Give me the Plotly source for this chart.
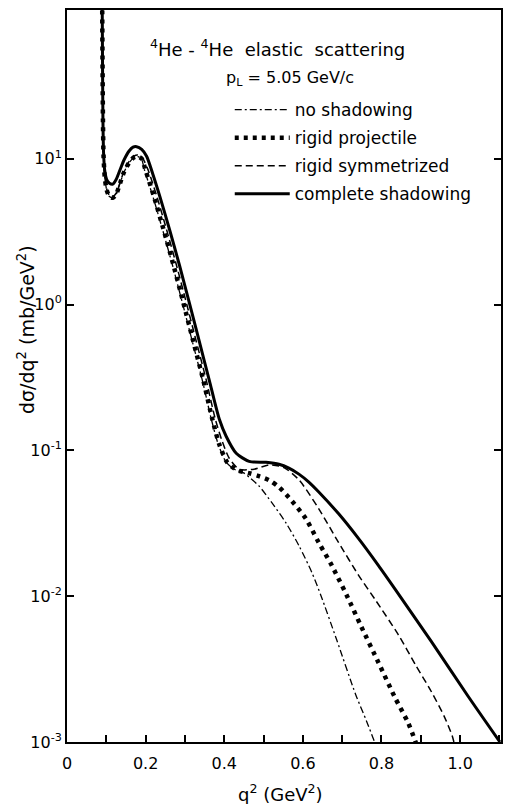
import plotly.graph_objects as go

# ---- data (q^2 in GeV^2, dsigma/dq^2 in mb/GeV^2) ----
q_complete = [0.0895, 0.0905, 0.0915, 0.093, 0.096, 0.101, 0.108, 0.1165, 0.125, 0.135,
              0.145, 0.158, 0.168, 0.177, 0.190, 0.2025, 0.218, 0.2354, 0.2608, 0.2861,
              0.3114, 0.3367, 0.362, 0.3873, 0.4051, 0.4304, 0.4633, 0.5063, 0.5392, 0.5646,
              0.5899, 0.6152, 0.6405, 0.6911, 0.7418, 0.7924, 0.8354, 0.9266, 1.0203, 1.1013]
y_complete = [120, 40, 18, 11, 8.3, 7.2, 6.8, 6.7, 7.2, 8.4,
              9.8, 11.3, 12.0, 12.1, 11.6, 10.4, 7.9, 5.6, 3.27, 1.86,
              1.023, 0.556, 0.302, 0.164, 0.1245, 0.0955, 0.0841, 0.0828, 0.0803, 0.0755,
              0.0687, 0.0606, 0.0518, 0.0367, 0.0248, 0.0162, 0.01109, 0.0049, 0.00206, 0.00100]

q_symm = [0.0895, 0.0905, 0.0915, 0.093, 0.096, 0.101, 0.108, 0.1165, 0.125, 0.135,
          0.145, 0.158, 0.170, 0.180, 0.192, 0.205, 0.2278, 0.2532, 0.2785, 0.3038,
          0.3291, 0.3544, 0.3772, 0.395, 0.4127, 0.438, 0.476, 0.514, 0.552, 0.590,
          0.6405, 0.691, 0.7418, 0.7848, 0.843, 0.886, 0.9266, 0.9595, 0.980, 0.987]
y_symm = [120, 40, 18, 10.5, 7.6, 6.2, 5.6, 5.5, 5.8, 6.9,
          8.2, 9.6, 10.4, 10.6, 10.1, 8.55, 5.6, 3.27, 1.86, 1.023,
          0.556, 0.302, 0.164, 0.115, 0.0883, 0.0743, 0.0743, 0.0795, 0.0762, 0.0628,
          0.0397, 0.0233, 0.0139, 0.0094, 0.00543, 0.0034, 0.00222, 0.00150, 0.0011, 0.00093]

q_proj = [0.0895, 0.0905, 0.0915, 0.093, 0.096, 0.101, 0.108, 0.1165, 0.125, 0.135,
          0.145, 0.158, 0.170, 0.179, 0.190, 0.200, 0.2203, 0.2456, 0.2709, 0.2962,
          0.3215, 0.3468, 0.3696, 0.3873, 0.4076, 0.4329, 0.4633, 0.4886, 0.514, 0.5392,
          0.572, 0.6076, 0.6405, 0.6734, 0.7114, 0.749, 0.7924, 0.835, 0.868, 0.891]
y_proj = [120, 40, 18, 10.4, 7.5, 6.1, 5.5, 5.4, 5.7, 6.8,
          8.1, 9.4, 10.2, 10.4, 10.0, 8.3, 5.6, 3.27, 1.86, 1.023,
          0.556, 0.302, 0.164, 0.11, 0.0828, 0.0731, 0.0698, 0.0665, 0.0625, 0.056,
          0.045, 0.034, 0.0233, 0.01626, 0.01016, 0.00615, 0.0035, 0.0020, 0.00135, 0.00093]

q_none = [0.0895, 0.0905, 0.0915, 0.093, 0.096, 0.101, 0.108, 0.1165, 0.125, 0.135,
          0.145, 0.158, 0.170, 0.178, 0.189, 0.1975, 0.2177, 0.243, 0.2684, 0.2937,
          0.319, 0.3443, 0.367, 0.3848, 0.405, 0.4253, 0.4506, 0.4633, 0.4886, 0.5215,
          0.557, 0.590, 0.6228, 0.6456, 0.686, 0.7342, 0.762, 0.787]
y_none = [120, 40, 18, 10.4, 7.5, 6.1, 5.5, 5.4, 5.7, 6.8,
          8.1, 9.4, 10.2, 10.4, 10.0, 8.3, 5.6, 3.27, 1.86, 1.023,
          0.556, 0.302, 0.164, 0.11, 0.0828, 0.0743, 0.0698, 0.0655, 0.0569, 0.0436,
          0.0318, 0.0222, 0.01456, 0.01016, 0.00502, 0.00212, 0.00139, 0.00093]

x_tickvals = [0, 0.1, 0.2, 0.3, 0.4, 0.5, 0.6, 0.7, 0.8, 0.9, 1.0, 1.1]
x_ticktext = ["0", "", "0.2", "", "0.4", "", "0.6", "", "0.8", "", "1.0", ""]
y_tickvals = [1e-3, 1e-2, 1e-1, 1e0, 1e1]
y_ticktext = ["10<sup>-3</sup>", "10<sup>-2</sup>", "10<sup>-1</sup>", "10<sup>0</sup>", "10<sup>1</sup>"]

labels = ["no shadowing", "rigid projectile", "rigid symmetrized", "complete shadowing"]

FONT = "DejaVu Sans"
fig = go.Figure()
fig.add_trace(go.Scatter(x=q_none, y=y_none, mode="lines", name=labels[0], legendgroup="a",
                         line=dict(color="black", width=1.3, dash="7px,3px,2px,3px", shape="spline", smoothing=0.7)))
fig.add_trace(go.Scatter(x=q_proj, y=y_proj, mode="lines", name=labels[1], legendgroup="b",
                         line=dict(color="black", width=4.5, dash="4px,5px", shape="spline", smoothing=0.7)))
fig.add_trace(go.Scatter(x=q_symm, y=y_symm, mode="lines", name=labels[2], legendgroup="c",
                         line=dict(color="black", width=1.5, dash="7px,4px", shape="spline", smoothing=0.7)))
fig.add_trace(go.Scatter(x=q_complete, y=y_complete, mode="lines", name=labels[3], legendgroup="d",
                         line=dict(color="black", width=3, shape="spline", smoothing=0.7)))

fig.update_layout(
    width=505, height=804,
    margin=dict(l=67, r=2, t=10, b=62),
    paper_bgcolor="white", plot_bgcolor="white",
    font=dict(family=FONT, color="black", size=15),
    showlegend=True,
    legend=dict(x=0.375, y=0.888, xanchor="left", yanchor="top", bgcolor="rgba(0,0,0,0)",
                font=dict(family=FONT, size=17), itemwidth=55, tracegroupgap=3,
                traceorder="grouped"),
    xaxis=dict(range=[0, 1.104], tickvals=x_tickvals, ticktext=x_ticktext,
               ticks="inside", ticklen=7, tickwidth=2, tickcolor="black",
               showline=True, linecolor="black", linewidth=2, mirror=True,
               showgrid=False, zeroline=False, ticklabelstandoff=6,
               tickfont=dict(family=FONT, size=16)),
    yaxis=dict(type="log", range=[-3.0, 2.02], tickvals=y_tickvals, ticktext=y_ticktext,
               ticks="inside", ticklen=7, tickwidth=2, tickcolor="black",
               showline=True, linecolor="black", linewidth=2, mirror="ticks",
               showgrid=False, zeroline=False,
               tickfont=dict(family=FONT, size=16)),
    annotations=[
        dict(text="<sup>4</sup>He - <sup>4</sup>He  elastic  scattering", x=0.484, y=0.948,
             xanchor="center", yanchor="middle",
             xref="paper", yref="paper", showarrow=False, font=dict(size=18)),
        dict(text="p<sub>L</sub> = 5.05 GeV/c", x=0.362, y=0.907, xanchor="left", yanchor="middle",
             xref="paper", yref="paper", showarrow=False, font=dict(size=16)),
        dict(text="dσ/dq<sup>2</sup> (mb/GeV<sup>2</sup>)", x=-0.094, y=0.563, textangle=-90,
             xanchor="center", yanchor="middle",
             xref="paper", yref="paper", showarrow=False, font=dict(size=19)),
        dict(text="q<sup>2</sup> (GeV<sup>2</sup>)", x=0.493, y=-0.0697,
             xanchor="center", yanchor="middle",
             xref="paper", yref="paper", showarrow=False, font=dict(size=18)),
    ],
)

fig.write_html("out.html", config={"displayModeBar": False},
               post_script="document.body.style.margin='0';document.body.style.overflow='hidden';")
